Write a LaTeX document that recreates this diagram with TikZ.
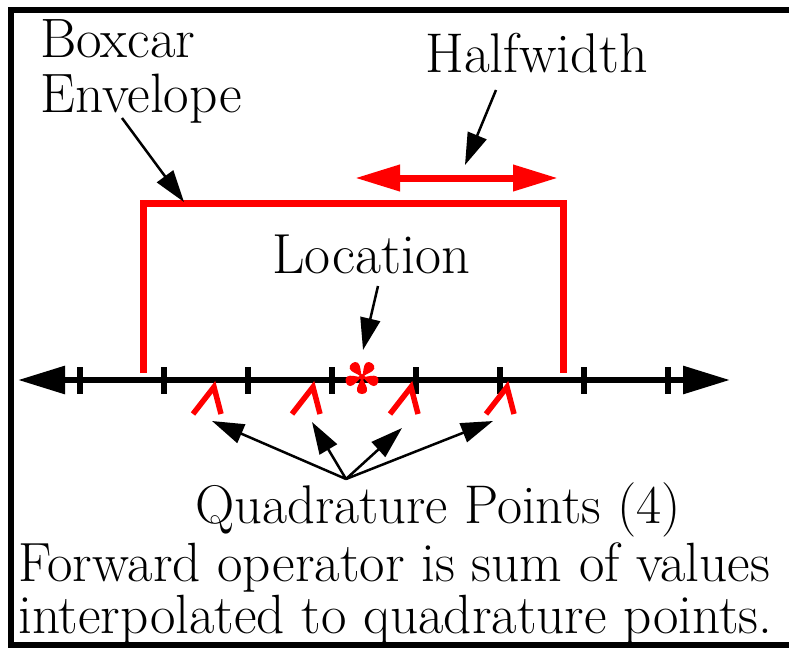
\documentclass[tikz,border=0pt]{standalone}
\usetikzlibrary{arrows.meta}
\begin{document}
\begin{tikzpicture}[x=1pt,y=-1pt,
  lbl/.style={inner sep=0pt, anchor=base west, font=\fontsize{#1}{#1}\selectfont},
  lbl/.default=55.5,
  bottomlbl/.style={inner sep=0pt, anchor=base west, text height=36pt, text depth=10pt, font=\fontsize{55.3}{47}\selectfont},
  pointer/.style={line width=2.5pt, -{Triangle[length=32pt,width=20pt]}},
  redline/.style={red, line width=7pt},
  tickmark/.style={line width=6pt}]
\useasboundingbox (0,0) rectangle (789,648);
% frame
\draw[line width=6pt, line join=miter] (800,10) -- (11,10) -- (11,645) -- (800,645);
% axis
\coordinate (axL) at (18,380);
\coordinate (axR) at (730,380);
\draw[line width=6pt, {Triangle[length=47pt,width=27pt]}-{Triangle[length=47pt,width=27pt]}] (axL) -- (axR);
\foreach \x in {80,164,248,332,416,500,584,668}
  \draw[tickmark] (\x,367) -- (\x,394);
% boxcar envelope
\draw[redline, line join=miter] (143,373) -- (143,203) -- (563,203) -- (563,373);
% halfwidth arrow
\coordinate (hwL) at (355,178);
\coordinate (hwR) at (558,178);
\draw[redline, {Triangle[length=45pt,width=25pt]}-{Triangle[length=45pt,width=25pt]}] (hwL) -- (hwR);
% quadrature points
\foreach \a in {214,313,411,507}
  \draw[red, line width=5.5pt, line join=miter] (\a-21,414) -- (\a,387) -- (\a+7,414);
% location asterisk
\begin{scope}[shift={(362,377)}]
  \foreach \a in {-90,-18,54,126,198}
    \fill[red, rotate=\a] (0,0) .. controls (6,-2) and (10,-6) .. (14,-5)
      .. controls (18,-4) and (18,4) .. (14,5) .. controls (10,6) and (6,2) .. (0,0);
  \fill[red] (0,0) circle (3);
\end{scope}
% labels
\node[lbl=55.5] (boxcar) at (40,57) {Boxcar};
\node[lbl=55.5] (envelope) at (40,112) {Envelope};
\node[lbl=56] (halfwidth) at (425,72) {Halfwidth};
\node[lbl=56.5] (location) at (272,273) {Location};
\node[lbl=54.5] (quad) at (195,523) {Quadrature Points (4)};
\node[bottomlbl] (fwd1) at (18,581) {Forward operator is sum of values};
\node[bottomlbl] (fwd2) at (18,633) {interpolated to quadrature points.};
% pointers
\coordinate (envTail) at (122,118);
\coordinate (envTip) at (184,202);
\draw[pointer] (envTail) -- (envTip);
\coordinate (hwTail) at (496,90);
\coordinate (hwTip) at (465,165);
\draw[pointer] (hwTail) -- (hwTip);
\coordinate (locTail) at (378,286);
\coordinate (locTip) at (363,350);
\draw[pointer] (locTail) -- (locTip);
\coordinate (qsrc) at (346,479);
\coordinate (q1) at (212,421);
\coordinate (q2) at (312,422);
\coordinate (q3) at (402,428);
\coordinate (q4) at (493,421);
\foreach \q in {q1,q2,q3,q4}
  \draw[pointer] (qsrc) -- (\q);
\end{tikzpicture}
\end{document}
